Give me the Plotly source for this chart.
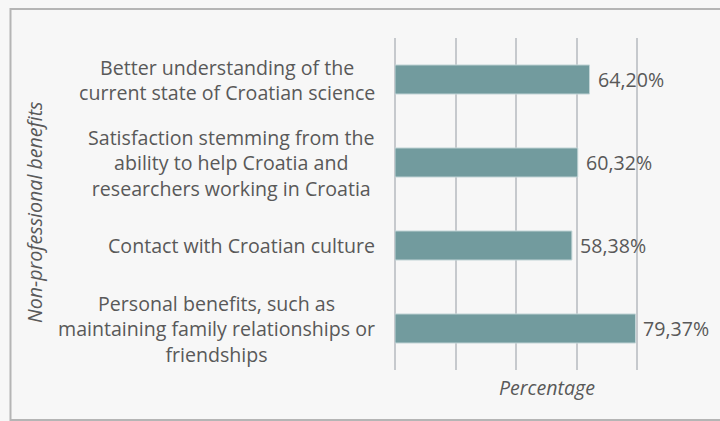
import plotly.graph_objects as go

# Survey results: non-professional benefits (percentage of respondents)
categories = [
    "Better understanding of the<br>current state of Croatian science",
    "Satisfaction stemming from the<br>ability to help Croatia and<br>researchers working in Croatia",
    "Contact with Croatian culture",
    "Personal benefits, such as<br>maintaining family relationships or<br>friendships",
]
values = [64.20, 60.32, 58.38, 79.37]
x_ticks = [0, 20, 40, 60, 80, 100]

FONT = "Open Sans"
FSIZE = 19.6
TEXT_COLOR = "#595959"
BG = "#f7f7f7"

labels = [f"{v:.2f}".replace(".", ",") + "%" for v in values]
cat_keys = [f"c{i}" for i in range(len(categories))]

fig = go.Figure(
    go.Bar(
        x=values,
        y=cat_keys,
        orientation="h",
        marker=dict(color="#729b9e", line=dict(color="#c3d5d7", width=1)),
        hoverinfo="skip",
    )
)

annotations = []
# Category labels, centred multi-line text to the left of the plot
for key, cat in zip(cat_keys, categories):
    annotations.append(dict(
        x=0, xref="paper", y=key, yref="y",
        text=cat, showarrow=False, xanchor="right", yanchor="middle",
        align="center", xshift=-18,
        font=dict(family=FONT, size=FSIZE, color=TEXT_COLOR),
    ))
# Value labels at the end of each bar
for key, v, lab in zip(cat_keys, values, labels):
    annotations.append(dict(
        x=v, xref="x", y=key, yref="y",
        text=lab, showarrow=False, xanchor="left", yanchor="middle",
        xshift=6,
        font=dict(family=FONT, size=FSIZE, color=TEXT_COLOR),
    ))
# Axis titles
annotations.append(dict(
    x=0.5, xref="paper", y=-0.054, yref="paper",
    text="<i>Percentage</i>", showarrow=False, xanchor="center", yanchor="middle",
    font=dict(family=FONT, size=FSIZE, color=TEXT_COLOR),
))
annotations.append(dict(
    x=-1.188, xref="paper", y=0.476, yref="paper",
    text="<i>Non-professional benefits</i>", showarrow=False, textangle=-90,
    xanchor="center", yanchor="middle",
    font=dict(family=FONT, size=FSIZE, color=TEXT_COLOR),
))

fig.update_layout(
    width=720, height=421,
    margin=dict(l=395, r=22, t=38, b=51),
    paper_bgcolor=BG, plot_bgcolor=BG,
    bargap=0.65,
    showlegend=False,
    annotations=annotations,
    shapes=[dict(
        type="rect", xref="paper", yref="paper",
        x0=-1.269, x1=1.3, y0=-0.1506, y1=1.087,
        line=dict(color="#b5b5b5", width=2), fillcolor="rgba(0,0,0,0)",
        layer="below",
    )],
    xaxis=dict(
        range=[0, 100], tickvals=x_ticks, showticklabels=False,
        showgrid=True, gridcolor="#c6c9cd", gridwidth=1.5,
        zeroline=True, zerolinecolor="#c6c9cd", zerolinewidth=1.5,
        showline=False, fixedrange=True,
    ),
    yaxis=dict(
        categoryorder="array", categoryarray=cat_keys, autorange="reversed",
        showticklabels=False, showgrid=False, zeroline=False, showline=False,
        fixedrange=True,
    ),
)

fig.write_html("out.html", config={"displayModeBar": False})
